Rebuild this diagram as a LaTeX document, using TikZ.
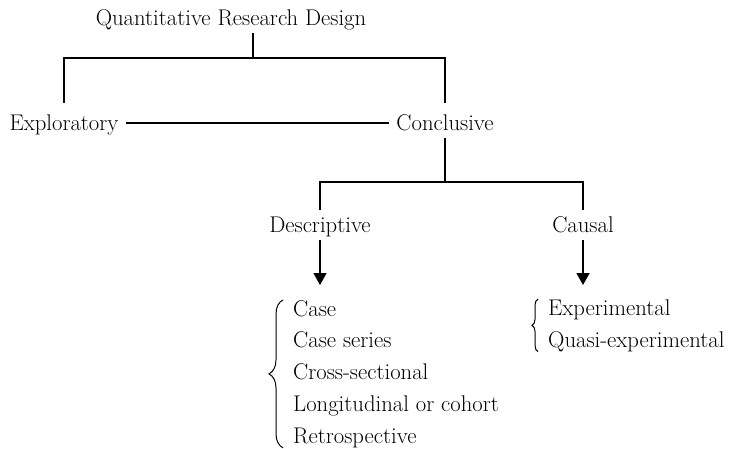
\documentclass[tikz,border=0pt]{standalone}
\usetikzlibrary{arrows.meta,decorations.pathreplacing}

\tikzset{
  lbl/.style={font=\fontsize{22.7}{27}\selectfont, text height=15pt, text depth=1pt,
    inner xsep=7pt, inner ysep=7pt},
  item/.style={font=\fontsize{22.7}{27}\selectfont, anchor=base west, inner sep=0pt},
  tree/.style={line width=1.6pt},
  down/.style={tree, -{Triangle[width=13pt,length=12pt]}},
  curly/.style={line width=1pt, decorate, decoration={brace, amplitude=#1}},
  curly/.default=14pt,
}

\begin{document}
\begin{tikzpicture}[x=1pt,y=-1pt]
\useasboundingbox (0,0) rectangle (734,448);

%% Top level
\node[lbl] (qrd) at (231,18) {Quantitative Research Design};
\coordinate (split) at (253,58);

%% Exploratory / Conclusive
\node[lbl] (expl) at (64,123) {Exploratory};
\node[lbl] (concl) at (445,123) {Conclusive};
\coordinate (fork) at (445,182);

\draw[tree] (qrd.south -| split) -- (split);
\draw[tree] ([yshift=5pt]expl.north) -- (expl.north |- split)
  -- (concl.north |- split) -- ([yshift=5pt]concl.north);
\draw[tree] (expl.east) -- (concl.west);

%% Descriptive / Causal
\node[lbl] (desc) at (320,225) {Descriptive};
\node[lbl] (caus) at (583,225) {Causal};
\coordinate (desctip) at (320,285);
\coordinate (caustip) at (583,285);

\draw[tree] (concl.south) -- (fork);
\draw[tree] (desc.north) -- (desc.north |- fork) -- (caus.north |- fork) -- (caus.north);
\draw[down] (desc.south) -- (desctip);
\draw[down] (caus.south) -- (caustip);

%% Descriptive designs
\foreach \t [count=\i] in {Case, Case series, Cross-sectional, Longitudinal or cohort, Retrospective}
  \node[item] (d\i) at (293,{316+31.8*(\i-1)}) {\t};
\draw[curly] ([xshift=-10pt]d5.south west) -- ([xshift=-10pt]d1.north west);

%% Causal designs
\foreach \t [count=\i] in {Experimental, Quasi-experimental}
  \node[item] (c\i) at (548,{315+32*(\i-1)}) {\t};
\draw[curly=6pt] ([xshift=-10pt]c2.south west) -- ([xshift=-10pt]c1.north west);

\end{tikzpicture}
\end{document}
